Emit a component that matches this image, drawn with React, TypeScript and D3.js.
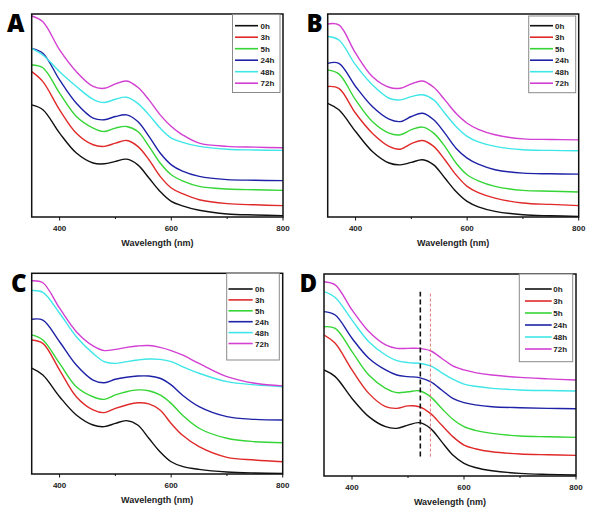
import React from "react";
import * as d3 from "d3";

const wavelengths = [350, 370, 400, 430, 460, 480, 500, 520, 540, 560, 580, 600, 620, 650, 700, 750, 800];
const seriesNames = ["0h", "3h", "5h", "24h", "48h", "72h"];
const seriesColors = ["#111111", "#e02a2a", "#35d535", "#1e22a6", "#3fe6e8", "#d23fd2"];
const xTicks = [400, 600, 800];
const xMinorTicks = [500, 700];

const panelA = [
  [55.2, 52.8, 41.3, 31.5, 26.6, 26.2, 27.4, 28.5, 25.7, 19.2, 12.6, 7.7, 5.5, 3.3, 1.5, 1.0, 0.7],
  [71.6, 66.7, 52.8, 41.3, 35.6, 34.8, 36.4, 37.7, 34.8, 28.2, 20.0, 14.3, 11.5, 8.5, 6.6, 6.0, 5.6],
  [74.9, 73.5, 61.0, 49.5, 43.8, 42.1, 43.8, 44.6, 42.1, 34.8, 26.6, 20.8, 17.8, 15.1, 13.8, 13.4, 13.1],
  [83.1, 80.7, 67.5, 56.0, 48.7, 47.9, 49.5, 50.3, 47.0, 39.7, 31.5, 25.7, 22.6, 20.0, 18.4, 18.1, 17.9],
  [83.1, 79.8, 71.6, 64.3, 58.0, 56.4, 58.0, 59.0, 56.0, 50.3, 43.8, 38.9, 36.8, 34.8, 33.4, 33.0, 32.8],
  [99.0, 96.2, 82.3, 71.6, 64.3, 63.4, 65.6, 67.0, 63.9, 57.7, 50.3, 44.6, 40.5, 36.4, 34.8, 34.4, 34.1],
];

const panelB = [
  [56.0, 52.8, 42.1, 32.3, 26.6, 25.7, 26.9, 28.2, 25.7, 19.2, 12.6, 7.7, 5.0, 2.8, 1.1, 0.6, 0.3],
  [64.3, 63.4, 51.1, 41.3, 34.8, 33.4, 36.1, 37.7, 34.8, 28.2, 20.8, 15.1, 12.0, 9.3, 6.9, 6.2, 5.6],
  [72.5, 70.5, 57.7, 47.0, 41.3, 40.5, 43.0, 44.3, 41.3, 34.8, 26.6, 20.8, 17.8, 15.1, 13.1, 12.7, 12.3],
  [75.7, 75.7, 64.3, 54.4, 48.2, 47.0, 49.5, 51.1, 47.9, 41.3, 33.9, 29.0, 26.0, 23.3, 21.6, 21.3, 21.1],
  [88.9, 87.2, 74.9, 65.1, 58.5, 57.7, 59.3, 60.2, 57.7, 51.1, 44.6, 39.7, 37.0, 34.8, 33.1, 32.8, 32.6],
  [95.1, 94.6, 80.7, 69.2, 63.9, 63.4, 65.6, 67.0, 63.9, 57.7, 51.1, 46.2, 43.2, 40.5, 38.5, 38.2, 38.0],
];

const panelC = [
  [52.7, 49.3, 38.5, 29.4, 24.4, 23.6, 25.2, 26.6, 24.4, 17.8, 11.1, 6.1, 3.8, 2.3, 1.0, 0.5, 0.3],
  [66.8, 65.1, 51.8, 38.5, 31.9, 30.6, 32.7, 34.4, 35.5, 34.9, 31.9, 25.2, 19.4, 13.6, 8.3, 7.0, 6.1],
  [69.3, 66.8, 55.1, 43.5, 38.5, 37.2, 39.4, 41.0, 41.9, 41.5, 39.4, 35.2, 29.4, 22.8, 17.8, 16.1, 15.6],
  [77.1, 76.7, 65.9, 54.3, 46.8, 45.5, 47.2, 48.2, 48.8, 48.8, 47.7, 44.4, 39.4, 33.6, 28.6, 27.2, 26.9],
  [91.4, 90.5, 80.1, 68.4, 60.1, 56.0, 55.1, 56.0, 56.8, 57.3, 57.1, 56.0, 53.5, 50.2, 46.0, 44.4, 43.5],
  [96.3, 95.3, 82.6, 70.9, 63.8, 61.5, 62.1, 63.1, 63.8, 64.0, 63.1, 61.5, 59.3, 55.1, 48.5, 45.2, 43.9],
];

const panelD = [
  [52.5, 49.2, 38.4, 29.4, 24.4, 23.6, 25.2, 26.4, 23.6, 17.0, 10.4, 6.3, 4.2, 2.6, 1.3, 0.8, 0.5],
  [69.8, 65.7, 52.5, 40.9, 34.3, 33.5, 34.7, 34.3, 31.0, 25.2, 19.5, 15.3, 13.5, 12.0, 10.9, 10.5, 10.2],
  [73.9, 73.1, 61.6, 50.0, 43.4, 41.3, 41.7, 42.2, 39.3, 33.5, 28.1, 24.4, 22.6, 21.1, 19.8, 19.4, 19.1],
  [81.4, 79.7, 68.2, 58.3, 52.5, 50.0, 49.2, 48.7, 46.7, 42.6, 38.4, 36.3, 35.2, 34.3, 33.8, 33.5, 33.3],
  [91.3, 88.4, 77.2, 66.5, 59.9, 57.1, 56.1, 55.8, 54.5, 51.2, 47.9, 45.5, 44.4, 43.4, 42.6, 42.3, 42.1],
  [96.2, 94.6, 82.2, 71.5, 64.9, 63.2, 63.2, 63.2, 62.0, 58.3, 54.5, 52.5, 51.2, 50.0, 48.8, 48.1, 47.5],
];

const markerWavelengths = [522, 540];
const markerRange = [9.6, 91.2];

type LegendGeom = { bx: number; by: number; bw: number; bh: number; y0: number; dy: number; lx1: number; lx2: number; tx: number };
type PanelProps = {
  label: string;
  left: number; top: number; right: number; bottom: number;
  labelX: number; labelY: number;
  data: number[][];
  legend: LegendGeom;
  markers?: boolean;
};

const FONT = "'Liberation Sans', Arial, sans-serif";

function Panel({ label, left, top, right, bottom, labelX, labelY, data, legend, markers }: PanelProps) {
  const x = d3.scaleLinear().domain([350, 800]).range([left, right]);
  const y = d3.scaleLinear().domain([0, 100]).range([bottom, top]);
  const line = d3
    .line<number>()
    .x((_, i) => x(wavelengths[i]))
    .y((v) => y(v))
    .curve(d3.curveCatmullRom.alpha(0.5));

  return (
    <g>
      <defs>
        <clipPath id={`clip-${label}`}>
          <rect x={left} y={top - 2} width={right - left} height={bottom - top + 2} />
        </clipPath>
      </defs>
      <g clipPath={`url(#clip-${label})`}>
        {data.map((s, i) => (
          <path key={i} d={line(s) || ""} fill="none" stroke={seriesColors[i]} strokeWidth={1.4} strokeLinejoin="round" />
        ))}
      </g>
      {markers && (
        <g>
          <line x1={x(markerWavelengths[0])} x2={x(markerWavelengths[0])} y1={y(markerRange[0])} y2={y(markerRange[1])} stroke="#111" strokeWidth={1.6} strokeDasharray="5,3" />
          <line x1={x(markerWavelengths[1])} x2={x(markerWavelengths[1])} y1={y(markerRange[0])} y2={y(markerRange[1])} stroke="#e07878" strokeWidth={1} strokeDasharray="3,2" />
        </g>
      )}
      <rect x={left} y={top} width={right - left} height={bottom - top} fill="none" stroke="#111" strokeWidth={1.5} />
      {xTicks.map((t) => (
        <g key={t}>
          <line x1={x(t)} x2={x(t)} y1={bottom} y2={bottom + 3.5} stroke="#111" strokeWidth={1} />
          <text x={x(t)} y={bottom + 14} textAnchor="middle" fontFamily={FONT} fontWeight="bold" fontSize={8} fill="#222">
            {t}
          </text>
        </g>
      ))}
      {xMinorTicks.map((t) => (
        <line key={t} x1={x(t)} x2={x(t)} y1={bottom} y2={bottom + 2} stroke="#111" strokeWidth={1} />
      ))}
      <text x={(left + right) / 2} y={bottom + 29} textAnchor="middle" fontFamily={FONT} fontWeight="bold" fontSize={9} fill="#222">
        Wavelength (nm)
      </text>
      <text x={labelX} y={labelY} fontFamily="'Open Sans', sans-serif" fontWeight={800} fontSize={24} fill="#000">
        {label}
      </text>
      <rect x={legend.bx} y={legend.by} width={legend.bw} height={legend.bh} fill="#fff" stroke="#8a8a8a" strokeWidth={1} />
      {seriesNames.map((n, i) => (
        <g key={n}>
          <line x1={legend.lx1} x2={legend.lx2} y1={legend.y0 + i * legend.dy} y2={legend.y0 + i * legend.dy} stroke={seriesColors[i]} strokeWidth={1.6} />
          <text x={legend.tx} y={legend.y0 + i * legend.dy + 3} fontFamily={FONT} fontWeight="bold" fontSize={8} fill="#222">
            {n}
          </text>
        </g>
      ))}
    </g>
  );
}

export default function App() {
  return (
    <svg width={600} height={522} style={{ position: "absolute", left: 0, top: 0, background: "#fff" }}>
      <rect width={600} height={522} fill="#fff" />
      <Panel
        label="A"
        left={31.7} top={14} right={283} bottom={217}
        labelX={7} labelY={32}
        data={panelA}
        legend={{ bx: 232.5, by: 14.5, bw: 47.5, bh: 78, y0: 25.7, dy: 11.5, lx1: 235, lx2: 258, tx: 260.5 }}
      />
      <Panel
        label="B"
        left={327.7} top={14} right={578.7} bottom={217}
        labelX={306.5} labelY={32}
        data={panelB}
        legend={{ bx: 528.7, by: 16, bw: 47, bh: 76.7, y0: 25.7, dy: 11.5, lx1: 530, lx2: 553, tx: 555 }}
      />
      <Panel
        label="C"
        left={31.7} top={273.3} right={282.7} bottom={474}
        labelX={11} labelY={291.5}
        data={panelC}
        legend={{ bx: 226.7, by: 273.3, bw: 52.6, bh: 86.7, y0: 289, dy: 10.9, lx1: 228.5, lx2: 252.7, tx: 255 }}
      />
      <Panel
        label="D"
        left={324} top={274} right={576} bottom={476}
        labelX={299.5} labelY={291.5}
        data={panelD}
        markers
        legend={{ bx: 519.3, by: 274, bw: 53.4, bh: 87.7, y0: 289, dy: 12, lx1: 525, lx2: 551.7, tx: 553.3 }}
      />
    </svg>
  );
}
